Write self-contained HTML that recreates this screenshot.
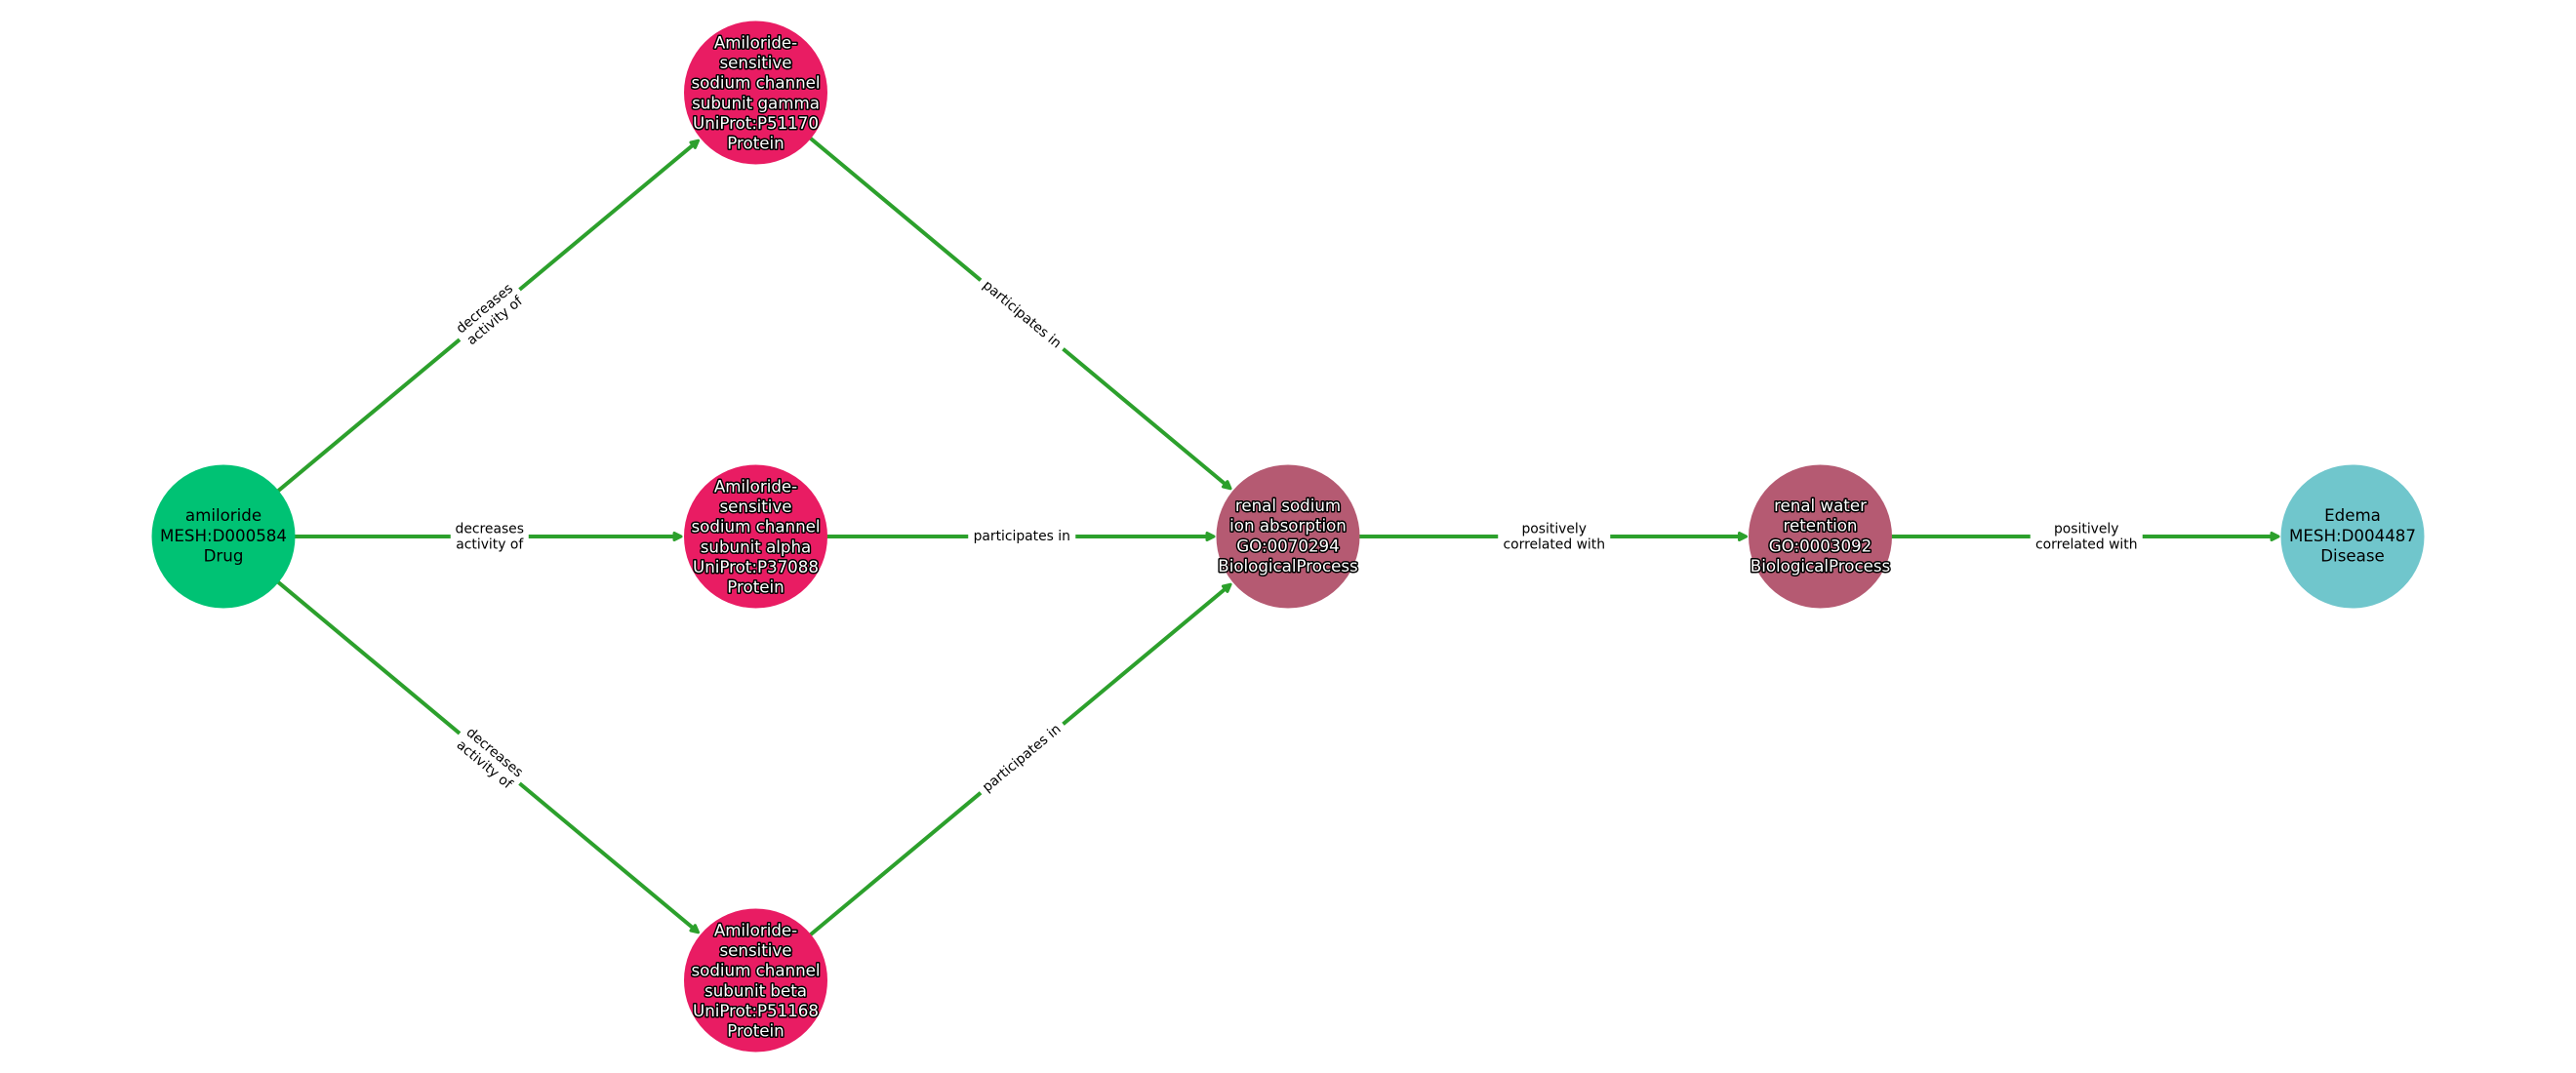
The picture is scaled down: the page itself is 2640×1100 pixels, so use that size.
<!DOCTYPE html>
<html>
<head>
<meta charset="utf-8">
<style>
html,body{margin:0;padding:0;background:#fff;width:2640px;height:1100px;overflow:hidden}
svg{display:block}
text{font-family:"DejaVu Sans",sans-serif;text-anchor:middle}
.n{font-size:16.67px;fill:#000}
.o{font-size:16.67px;fill:#fff;stroke:#000;stroke-width:3px;paint-order:stroke;stroke-linejoin:round}
.e{font-size:13.89px;fill:#000}
.l{stroke:#2ca02c;stroke-width:4px;fill:none}
.a{fill:#2ca02c;stroke:#2ca02c;stroke-width:3px;stroke-linejoin:round}
</style>
</head>
<body>
<svg width="2640" height="1100" viewBox="0 0 2640 1100" xmlns="http://www.w3.org/2000/svg">
<rect width="2640" height="1100" fill="#fff"/>

<!-- edges -->
<line class="l" x1="229" y1="550" x2="711" y2="148"/>
<line class="l" x1="229" y1="550" x2="694" y2="550"/>
<line class="l" x1="229" y1="550" x2="711" y2="952"/>
<line class="l" x1="774.5" y1="95" x2="1256.5" y2="497"/>
<line class="l" x1="774.5" y1="550" x2="1239" y2="550"/>
<line class="l" x1="774.5" y1="1005" x2="1256.5" y2="603"/>
<line class="l" x1="1320" y1="550" x2="1785" y2="550"/>
<line class="l" x1="1865.5" y1="550" x2="2330" y2="550"/>

<!-- arrowheads -->
<g transform="translate(717.1,142.9) rotate(-39.83)"><polygon class="a" points="-2,0 -9,-3.5 -9,3.5"/></g>
<g transform="translate(700,550)"><polygon class="a" points="-2,0 -9,-3.5 -9,3.5"/></g>
<g transform="translate(717.1,957.1) rotate(39.83)"><polygon class="a" points="-2,0 -9,-3.5 -9,3.5"/></g>
<g transform="translate(1262.6,502.1) rotate(39.83)"><polygon class="a" points="-2,0 -9,-3.5 -9,3.5"/></g>
<g transform="translate(1246,550)"><polygon class="a" points="-2,0 -9,-3.5 -9,3.5"/></g>
<g transform="translate(1262.6,597.9) rotate(-39.83)"><polygon class="a" points="-2,0 -9,-3.5 -9,3.5"/></g>
<g transform="translate(1791.5,550)"><polygon class="a" points="-2,0 -9,-3.5 -9,3.5"/></g>
<g transform="translate(2337,550)"><polygon class="a" points="-2,0 -9,-3.5 -9,3.5"/></g>

<!-- edge labels -->
<g transform="translate(501.75,322.5) rotate(-39.83)">
  <rect x="-40" y="-19" width="80" height="38" fill="#fff"/>
  <text class="e" x="0" y="-3.7">decreases</text>
  <text class="e" x="0" y="12.5">activity of</text>
</g>
<g transform="translate(501.75,550)">
  <rect x="-40" y="-19" width="80" height="38" fill="#fff"/>
  <text class="e" x="0" y="-3.7">decreases</text>
  <text class="e" x="0" y="12.5">activity of</text>
</g>
<g transform="translate(501.75,777.5) rotate(39.83)">
  <rect x="-40" y="-19" width="80" height="38" fill="#fff"/>
  <text class="e" x="0" y="-3.7">decreases</text>
  <text class="e" x="0" y="12.5">activity of</text>
</g>
<g transform="translate(1047.25,322.5) rotate(39.83)">
  <rect x="-55" y="-11" width="110" height="22" fill="#fff"/>
  <text class="e" x="0" y="4">participates in</text>
</g>
<g transform="translate(1047.25,550)">
  <rect x="-55" y="-11" width="110" height="22" fill="#fff"/>
  <text class="e" x="0" y="4">participates in</text>
</g>
<g transform="translate(1047.25,777.5) rotate(-39.83)">
  <rect x="-55" y="-11" width="110" height="22" fill="#fff"/>
  <text class="e" x="0" y="4">participates in</text>
</g>
<g transform="translate(1592.75,550)">
  <rect x="-57.5" y="-19" width="115" height="38" fill="#fff"/>
  <text class="e" x="0" y="-3.7">positively</text>
  <text class="e" x="0" y="12.5">correlated with</text>
</g>
<g transform="translate(2138.25,550)">
  <rect x="-57.5" y="-19" width="115" height="38" fill="#fff"/>
  <text class="e" x="0" y="-3.7">positively</text>
  <text class="e" x="0" y="12.5">correlated with</text>
</g>

<!-- nodes -->
<circle cx="229" cy="550" r="73.5" fill="#00c274"/>
<circle cx="774.5" cy="95" r="73.5" fill="#e91c63"/>
<circle cx="774.5" cy="550" r="73.5" fill="#e91c63"/>
<circle cx="774.5" cy="1005" r="73.5" fill="#e91c63"/>
<circle cx="1320" cy="550" r="73.5" fill="#b55a72"/>
<circle cx="1865.5" cy="550" r="73.5" fill="#b55a72"/>
<circle cx="2411" cy="550" r="73.5" fill="#70c6cc"/>

<!-- node labels -->
<text class="n" x="229" y="534">amiloride</text>
<text class="n" x="229" y="555">MESH:D000584</text>
<text class="n" x="229" y="575.5">Drug</text>

<text class="o" x="774.5" y="49.3">Amiloride-</text>
<text class="o" x="774.5" y="70">sensitive</text>
<text class="o" x="774.5" y="90.7">sodium channel</text>
<text class="o" x="774.5" y="111.3">subunit gamma</text>
<text class="o" x="774.5" y="132">UniProt:P51170</text>
<text class="o" x="774.5" y="152.7">Protein</text>

<text class="o" x="774.5" y="504.3">Amiloride-</text>
<text class="o" x="774.5" y="525">sensitive</text>
<text class="o" x="774.5" y="545.7">sodium channel</text>
<text class="o" x="774.5" y="566.3">subunit alpha</text>
<text class="o" x="774.5" y="587">UniProt:P37088</text>
<text class="o" x="774.5" y="607.7">Protein</text>

<text class="o" x="774.5" y="959.3">Amiloride-</text>
<text class="o" x="774.5" y="980">sensitive</text>
<text class="o" x="774.5" y="1000.7">sodium channel</text>
<text class="o" x="774.5" y="1021.3">subunit beta</text>
<text class="o" x="774.5" y="1042">UniProt:P51168</text>
<text class="o" x="774.5" y="1062.7">Protein</text>

<text class="o" x="1320" y="524">renal sodium</text>
<text class="o" x="1320" y="544.7">ion absorption</text>
<text class="o" x="1320" y="565.3">GO:0070294</text>
<text class="o" x="1320" y="586">BiologicalProcess</text>

<text class="o" x="1865.5" y="524">renal water</text>
<text class="o" x="1865.5" y="544.7">retention</text>
<text class="o" x="1865.5" y="565.3">GO:0003092</text>
<text class="o" x="1865.5" y="586">BiologicalProcess</text>

<text class="n" x="2411" y="534">Edema</text>
<text class="n" x="2411" y="555">MESH:D004487</text>
<text class="n" x="2411" y="575.5">Disease</text>
</svg>
</body>
</html>
